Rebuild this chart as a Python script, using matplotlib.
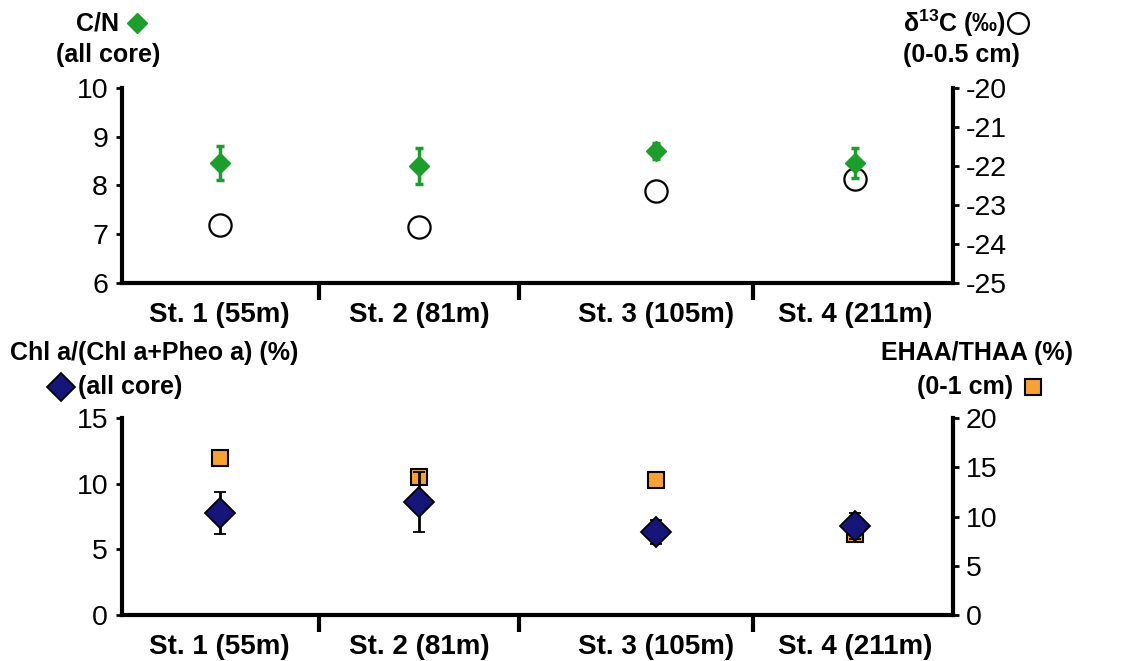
import matplotlib
matplotlib.use("Agg")
import matplotlib.pyplot as plt
from matplotlib.lines import Line2D

plt.rcParams['font.family'] = ['Liberation Sans', 'DejaVu Sans']
plt.rcParams['mathtext.fontset'] = 'custom'
plt.rcParams['mathtext.bf'] = 'Liberation Sans:bold'
plt.rcParams['mathtext.rm'] = 'Liberation Sans'

stations = ['St. 1 (55m)', 'St. 2 (81m)', 'St. 3 (105m)', 'St. 4 (211m)']

# top panel
cn = [8.46, 8.40, 8.71, 8.46]
cn_err = [0.35, 0.36, 0.17, 0.30]
d13c = [-23.51, -23.57, -22.63, -22.33]

# bottom panel
chl = [7.77, 8.60, 6.32, 6.78]
chl_err = [1.63, 2.30, 0.90, 1.00]
ehaa = [15.9, 14.0, 13.7, 8.2]

# layout: station centres and separator ticks (x units)
xpos = [0.47, 1.43, 2.57, 3.53]
seps = [0.95, 1.91, 3.04]

GREEN = '#1c9e2c'
NAVY = '#15157a'
ORANGE = '#f7a233'

fig = plt.figure(figsize=(11.22, 6.61), dpi=100)
ax1 = fig.add_axes([0.1087, 0.5719, 0.7406, 0.295])
ax2 = fig.add_axes([0.1087, 0.0696, 0.7406, 0.298])


def style(ax, axr):
    ax.set_xlim(0, 4)
    for a in (ax, axr):
        a.spines['top'].set_visible(False)
        for s in a.spines.values():
            s.set_linewidth(3)
    ax.spines['right'].set_visible(False)
    axr.spines['left'].set_visible(False)
    axr.spines['bottom'].set_visible(False)
    ax.set_xticks(xpos)
    ax.set_xticklabels(stations, fontsize=20, fontweight='bold')
    ax.tick_params(axis='x', which='major', length=0, pad=14)
    ax.set_xticks(seps, minor=True)
    ax.tick_params(axis='x', which='minor', length=12, width=3, direction='out')
    ax.tick_params(axis='y', labelsize=20.5, length=4, width=2, pad=6)
    axr.tick_params(axis='y', labelsize=20.5, length=4, width=2, pad=5)


# top panel
ax1r = ax1.twinx()
ax1.errorbar(xpos, cn, yerr=cn_err, fmt='D', color=GREEN, ms=10,
             elinewidth=2.5, capsize=3, capthick=2.5, zorder=3)
ax1r.plot(xpos, d13c, 'o', ms=16, mfc='white', mec='black', mew=1.6, zorder=2)
ax1.set_ylim(6, 10)
ax1.set_yticks([6, 7, 8, 9, 10])
ax1r.set_ylim(-25, -20)
ax1r.set_yticks([-25, -24, -23, -22, -21, -20])
ax1r.set_yticklabels(['-25', '-24', '-23', '-22', '-21', '-20'])
ax1.set_zorder(ax1r.get_zorder() + 1)
ax1.patch.set_visible(False)
style(ax1, ax1r)

# bottom panel
ax2r = ax2.twinx()
ax2r.plot(xpos, ehaa, 's', ms=11, mfc=ORANGE, mec='black', mew=1.5)
ax2.errorbar(xpos, chl, yerr=chl_err, fmt='D', ms=15, mfc=NAVY, mec='black',
             mew=1.3, ecolor='black', elinewidth=2, capsize=4, capthick=2)
ax2.set_ylim(0, 15)
ax2.set_yticks([0, 5, 10, 15])
ax2r.set_ylim(0, 20)
ax2r.set_yticks([0, 5, 10, 15, 20])
ax2.set_zorder(ax2r.get_zorder() + 1)
ax2.patch.set_visible(False)
style(ax2, ax2r)

# axis titles with marker keys
TS = 18
fig.text(0.087, 0.965, 'C/N', fontsize=TS, fontweight='bold', ha='center', va='center')
fig.text(0.096, 0.917, '(all core)', fontsize=TS, fontweight='bold', ha='center', va='center')
fig.add_artist(Line2D([0.1225], [0.965], transform=fig.transFigure, marker='D',
                      ms=10, color=GREEN, ls='none'))

fig.text(0.8045, 0.965, r'δ$^{\mathbf{13}}$C (‰)', fontsize=TS, fontweight='bold',
         ha='left', va='center')
fig.add_artist(Line2D([0.9075], [0.965], transform=fig.transFigure, marker='o',
                      ms=15, mfc='white', mec='black', mew=1.6, ls='none'))
fig.text(0.857, 0.917, '(0-0.5 cm)', fontsize=TS, fontweight='bold', ha='center', va='center')

fig.text(0.009, 0.466, 'Chl a/(Chl a+Pheo a) (%)', fontsize=TS, fontweight='bold',
         ha='left', va='center')
fig.add_artist(Line2D([0.054], [0.415], transform=fig.transFigure, marker='D',
                      ms=14, mfc=NAVY, mec='black', mew=1.3, ls='none'))
fig.text(0.0695, 0.415, '(all core)', fontsize=TS, fontweight='bold', ha='left', va='center')

fig.text(0.9565, 0.466, 'EHAA/THAA (%)', fontsize=TS, fontweight='bold', ha='right', va='center')
fig.text(0.903, 0.415, '(0-1 cm)', fontsize=TS, fontweight='bold', ha='right', va='center')
fig.add_artist(Line2D([0.921], [0.415], transform=fig.transFigure, marker='s',
                      ms=12, mfc=ORANGE, mec='black', mew=1.5, ls='none'))

fig.savefig('out.png', dpi=100)
